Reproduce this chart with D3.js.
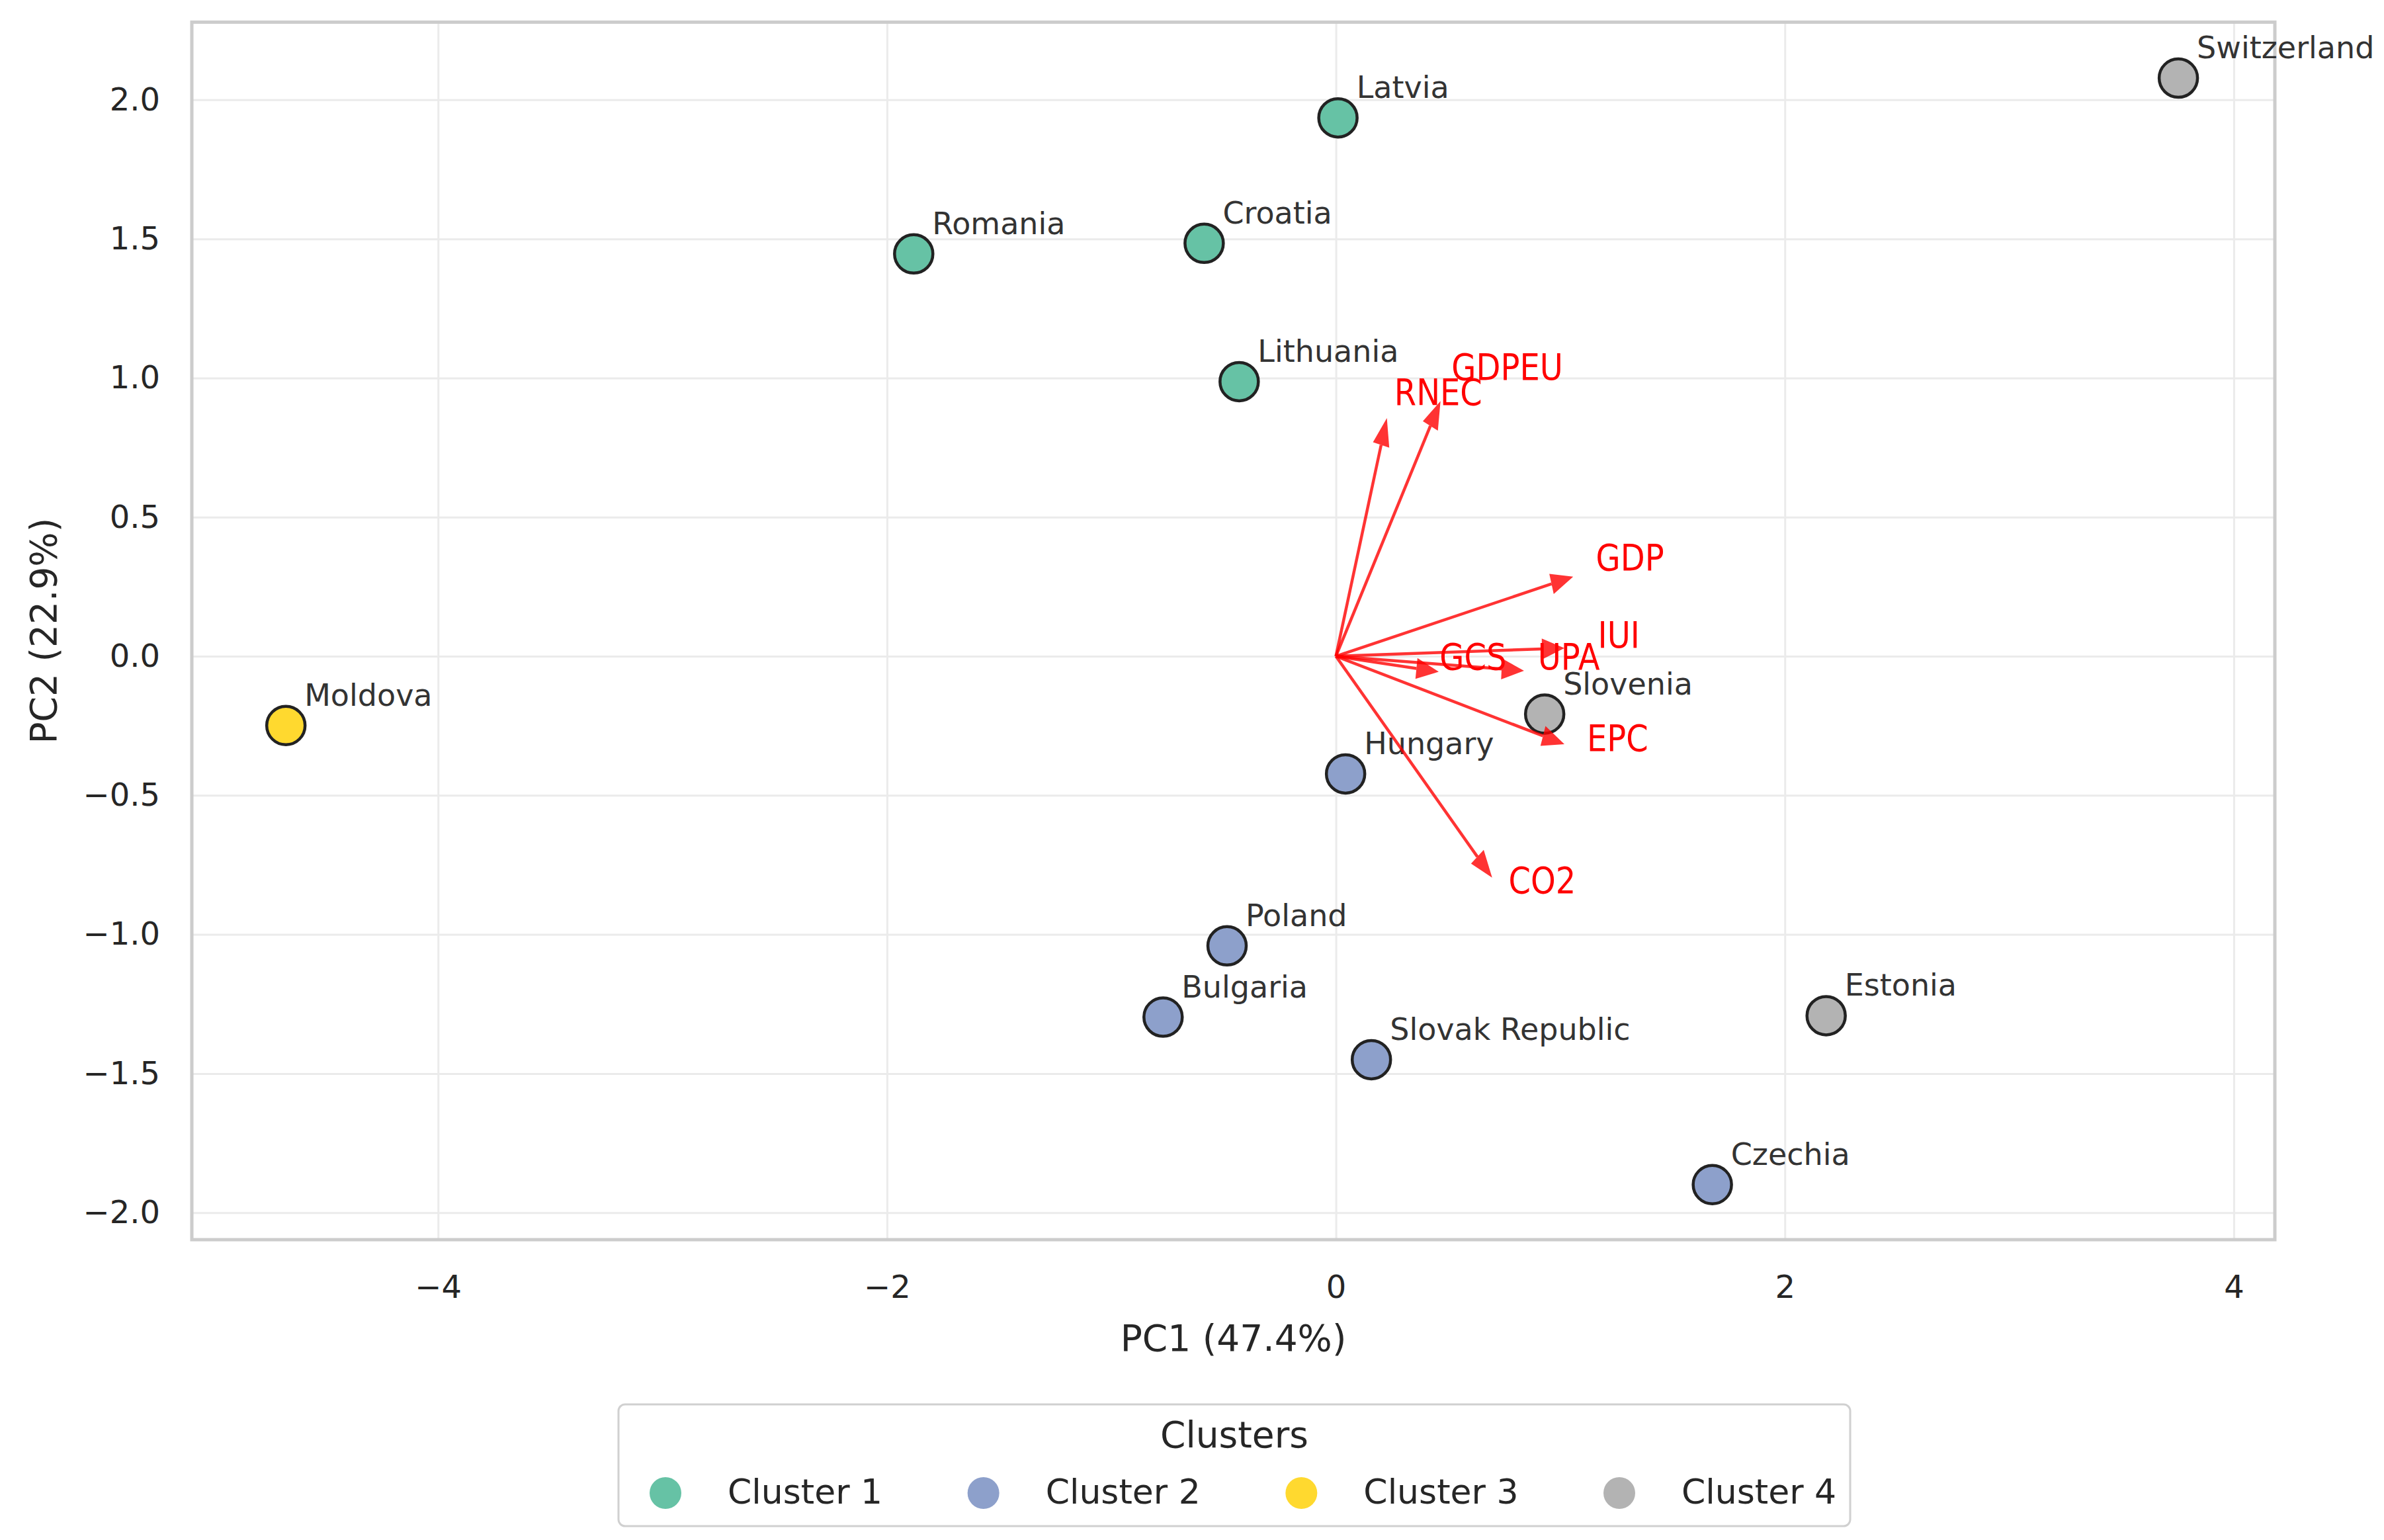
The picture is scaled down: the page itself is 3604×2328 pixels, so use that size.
<!DOCTYPE html>
<html>
<head>
<meta charset="utf-8">
<script src="https://cdn.jsdelivr.net/npm/d3@7"></script>
<style>
  body { margin: 0; background: #fff; }
  text { font-family: 'DejaVu Sans', sans-serif; }
</style>
</head>
<body>
<script>
// PCA biplot data
var countries = ['Switzerland', 'Latvia', 'Romania', 'Croatia', 'Lithuania', 'Moldova', 'Slovenia',
                 'Hungary', 'Poland', 'Bulgaria', 'Slovak Republic', 'Estonia', 'Czechia'];
var pc1 = [3.753, 0.009, -1.881, -0.587, -0.431, -4.678, 0.930, 0.043, -0.485, -0.770, 0.158, 2.184, 1.677];
var pc2 = [2.078, 1.935, 1.446, 1.484, 0.987, -0.249, -0.208, -0.423, -1.041, -1.297, -1.450, -1.292, -1.899];
var cluster = [4, 1, 1, 1, 1, 3, 4, 2, 2, 2, 2, 4, 2];

// loadings (arrow tips) and where their names sit
var variables = ['RNEC', 'GDPEU', 'GDP', 'IUI', 'UPA', 'GCS', 'EPC', 'CO2'];
var loadX = [0.227, 0.466, 1.057, 1.018, 0.838, 0.458, 1.018, 0.696];
var loadY = [0.856, 0.917, 0.286, 0.029, -0.052, -0.056, -0.316, -0.796];
var nameX = [0.260, 0.515, 1.158, 1.167, 0.899, 0.462, 1.118, 0.769];
var nameY = [0.904, 0.995, 0.310, 0.030, -0.047, -0.047, -0.341, -0.850];

var clusterNames = ['Cluster 1', 'Cluster 2', 'Cluster 3', 'Cluster 4'];
var clusterColors = ['#66c2a5', '#8da0cb', '#ffd92f', '#b3b3b3'];

var xTicks = [-4, -2, 0, 2, 4];
var yTicks = [-2, -1.5, -1, -0.5, 0, 0.5, 1, 1.5, 2];

var W = 3604, H = 2328;
var pLeft = 290, pRight = 3439, pTop = 33.5, pBottom = 1874;

var svg = d3.select('body').append('svg')
  .attr('width', W)
  .attr('height', H);

var x = d3.scaleLinear().domain([-5.097, 4.183]).range([pLeft, pRight]);
var y = d3.scaleLinear().domain([-2.097, 2.279]).range([pBottom, pTop]);

// grid
svg.append('g')
  .attr('transform', 'translate(0,' + pBottom + ')')
  .call(d3.axisBottom(x).tickValues(xTicks).tickSize(-(pBottom - pTop)).tickFormat(''))
  .call(function(g) { g.select('.domain').remove(); })
  .selectAll('line').attr('stroke', '#ebebeb').attr('stroke-width', 3);

svg.append('g')
  .attr('transform', 'translate(' + pLeft + ',0)')
  .call(d3.axisLeft(y).tickValues(yTicks).tickSize(-(pRight - pLeft)).tickFormat(''))
  .call(function(g) { g.select('.domain').remove(); })
  .selectAll('line').attr('stroke', '#ebebeb').attr('stroke-width', 3);

// tick labels
var xAxis = svg.append('g')
  .attr('transform', 'translate(0,' + pBottom + ')')
  .call(d3.axisBottom(x).tickValues(xTicks).tickSize(0).tickPadding(54).tickFormat(d3.format('d')));
xAxis.select('.domain').remove();
xAxis.selectAll('text').attr('font-size', 48).attr('fill', '#262626')
  .attr('font-family', "'DejaVu Sans', sans-serif");

var yAxis = svg.append('g')
  .attr('transform', 'translate(' + pLeft + ',0)')
  .call(d3.axisLeft(y).tickValues(yTicks).tickSize(0).tickPadding(48).tickFormat(d3.format('.1f')));
yAxis.select('.domain').remove();
yAxis.selectAll('text').attr('font-size', 48).attr('fill', '#262626')
  .attr('font-family', "'DejaVu Sans', sans-serif");

// frame
svg.append('rect')
  .attr('x', pLeft).attr('y', pTop)
  .attr('width', pRight - pLeft).attr('height', pBottom - pTop)
  .attr('fill', 'none')
  .attr('stroke', '#cccccc')
  .attr('stroke-width', 5);

// axis titles
svg.append('text')
  .attr('x', (pLeft + pRight) / 2)
  .attr('y', 2042)
  .attr('text-anchor', 'middle')
  .attr('font-size', 55)
  .attr('fill', '#262626')
  .text('PC1 (47.4%)');

svg.append('text')
  .attr('transform', 'translate(85,' + (pTop + pBottom) / 2 + ') rotate(-90)')
  .attr('text-anchor', 'middle')
  .attr('font-size', 55)
  .attr('fill', '#262626')
  .text('PC2 (22.9%)');

// points
var idx = d3.range(countries.length);

svg.append('g').selectAll('circle')
  .data(idx)
  .enter()
  .append('circle')
  .attr('cx', function(i) { return x(pc1[i]); })
  .attr('cy', function(i) { return y(pc2[i]); })
  .attr('r', 29)
  .attr('fill', function(i) { return clusterColors[cluster[i] - 1]; })
  .attr('stroke', '#222')
  .attr('stroke-width', 4.5);

svg.append('g').selectAll('text')
  .data(idx)
  .enter()
  .append('text')
  .attr('x', function(i) { return x(pc1[i]) + 28; })
  .attr('y', function(i) { return y(pc2[i]) - 30; })
  .attr('font-size', 46)
  .attr('fill', '#333333')
  .text(function(i) { return countries[i]; });

// loading arrows, head sized in data units like plt.arrow
var headLen = 0.1, headW = 0.075;
var arrows = svg.append('g');
variables.forEach(function(v, i) {
  var dx = loadX[i], dy = loadY[i];
  var len = Math.sqrt(dx * dx + dy * dy);
  var ux = dx / len, uy = dy / len;
  var bx = dx - ux * headLen, by = dy - uy * headLen;
  var px = -uy * headW / 2, py = ux * headW / 2;
  arrows.append('line')
    .attr('x1', x(0)).attr('y1', y(0))
    .attr('x2', x(bx)).attr('y2', y(by))
    .attr('stroke', '#ff0000')
    .attr('stroke-opacity', 0.8)
    .attr('stroke-width', 4.5);
  arrows.append('path')
    .attr('d', 'M' + x(dx) + ',' + y(dy) +
               'L' + x(bx + px) + ',' + y(by + py) +
               'L' + x(bx - px) + ',' + y(by - py) + 'Z')
    .attr('fill', '#ff0000')
    .attr('fill-opacity', 0.8);
});

// variable names, a little taller than wide as in the source picture
svg.append('g').selectAll('text')
  .data(variables)
  .enter()
  .append('text')
  .attr('transform', function(d, i) {
    return 'translate(' + x(nameX[i]) + ',' + y(nameY[i]) + ') scale(1,1.15)';
  })
  .attr('font-size', 48)
  .attr('fill', '#ff0000')
  .text(function(d) { return d; });

// legend
var lg = svg.append('g');
lg.append('rect')
  .attr('x', 935).attr('y', 2123)
  .attr('width', 1862).attr('height', 184)
  .attr('rx', 10)
  .attr('fill', '#fff')
  .attr('stroke', '#d0d0d0')
  .attr('stroke-width', 3);

lg.append('text')
  .attr('x', 1866).attr('y', 2188)
  .attr('text-anchor', 'middle')
  .attr('font-size', 55)
  .attr('fill', '#262626')
  .text('Clusters');

var lx = d3.scalePoint().domain(clusterNames).range([1006, 2448]);

lg.selectAll('circle')
  .data(clusterNames)
  .enter()
  .append('circle')
  .attr('cx', function(d) { return lx(d); })
  .attr('cy', 2257)
  .attr('r', 24)
  .attr('fill', function(d, i) { return clusterColors[i]; });

lg.selectAll('text.item')
  .data(clusterNames)
  .enter()
  .append('text')
  .attr('class', 'item')
  .attr('x', function(d) { return lx(d) + 94; })
  .attr('y', 2273)
  .attr('font-size', 52)
  .attr('fill', '#262626')
  .text(function(d) { return d; });
</script>
</body>
</html>
